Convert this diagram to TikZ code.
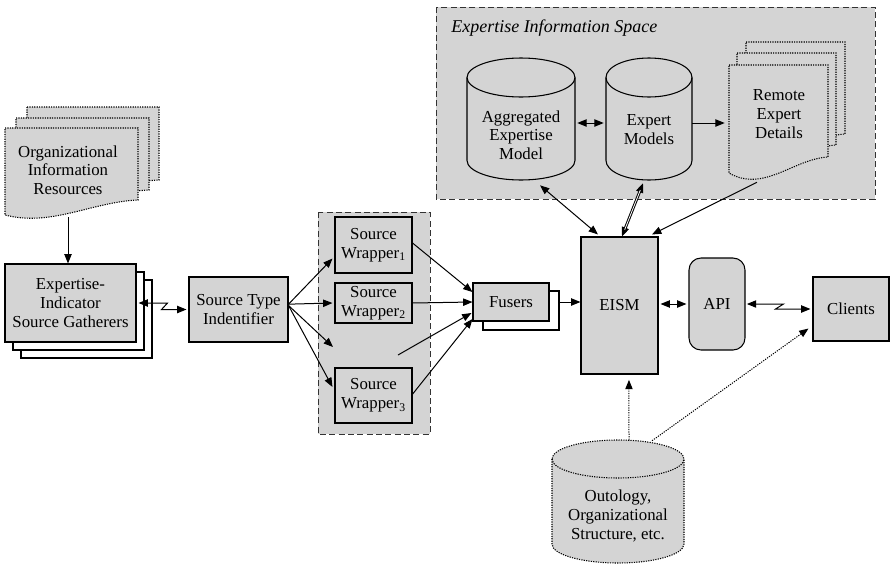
\documentclass[tikz,border=0pt]{standalone}
\usepackage{fontspec}
\setmainfont{LiberationSerif}[Extension=.ttf, UprightFont=*-Regular, ItalicFont=*-Italic, BoldFont=*-Bold, BoldItalicFont=*-BoldItalic]
\usetikzlibrary{arrows.meta,calc}
\definecolor{fillg}{RGB}{212,212,212}
\tikzset{
 every node/.style={font=\rmfamily\fontsize{12.6pt}{14pt}\selectfont, align=center, inner sep=0pt},
 box/.style={draw, fill=fillg, line width=0.8pt},
 backbox/.style={draw, fill=white, line width=0.8pt},
 grp/.style={draw=black!80, fill=fillg, line width=0.6pt, dash pattern=on 4.5pt off 2.5pt},
 dotb/.style={draw, fill=fillg, line width=0.8pt, dash pattern=on 0.9pt off 0.9pt},
 arr/.style={-{Triangle[length=7pt,width=5.5pt]}, line width=0.75pt},
 darr/.style={{Triangle[length=7pt,width=5.5pt]}-{Triangle[length=7pt,width=5.5pt]}, line width=0.75pt},
 dotarr/.style={arr, dash pattern=on 0.9pt off 0.9pt},
 txt/.style={draw=none, fill=none},
}
% document shape: x0 x1 ytop yLeftBottom yRightBottom dip style
\newcommand\mydoc[7]{%
 \pgfmathsetmacro\mydw{#2-#1}%
 \path[#7] (#1,#3) -- (#2,#3) -- (#2,#5) .. controls ({#2-0.35*\mydw},{#5+2}) and ({#1+0.35*\mydw},{#4+#6}) .. (#1,#4) -- cycle;}
% cylinder: cx rx ytop ybot ry style
\newcommand\mycyl[6]{%
 \pgfmathsetmacro\mcxa{#1-#2}\pgfmathsetmacro\mcxb{#1+#2}%
 \pgfmathsetmacro\mcyt{#3+#5}\pgfmathsetmacro\mcyb{#4-#5}%
 \pgfmathsetmacro\mkx{0.5523*#2}\pgfmathsetmacro\mky{0.5523*#5}%
 \pgfmathsetmacro\mtb{#3+2*#5}%
 \path[#6] (\mcxa,\mcyt) -- (\mcxa,\mcyb) .. controls (\mcxa,{\mcyb+\mky}) and ({#1-\mkx},#4) .. (#1,#4) .. controls ({#1+\mkx},#4) and (\mcxb,{\mcyb+\mky}) .. (\mcxb,\mcyb) -- (\mcxb,\mcyt) .. controls (\mcxb,{\mcyt-\mky}) and ({#1+\mkx},#3) .. (#1,#3) .. controls ({#1-\mkx},#3) and (\mcxa,{\mcyt-\mky}) .. (\mcxa,\mcyt) -- cycle;
 \path[#6, fill=none] (\mcxa,\mcyt) .. controls (\mcxa,{\mcyt+\mky}) and ({#1-\mkx},\mtb) .. (#1,\mtb) .. controls ({#1+\mkx},\mtb) and (\mcxb,{\mcyt+\mky}) .. (\mcxb,\mcyt);}
\begin{document}
\begin{tikzpicture}[x=0.75pt,y=-0.75pt]
\useasboundingbox (0,0) rectangle (894,565);

% group areas
\draw[grp] (436,7) rectangle (875,199);
\node[anchor=west, font=\rmfamily\itshape\fontsize{13.5pt}{16pt}\selectfont] (eistitle) at (451,28) {Expertise Information Space};
\draw[grp] (318,212) rectangle (430,434);

% organizational information resources (document stack)
\mydoc{27}{159}{107}{194}{180}{12}{dotb}
\mydoc{16}{149}{118}{205}{190}{12}{dotb}
\mydoc{5}{138}{128}{215}{200}{12}{dotb}
\node[txt, minimum width=99.75pt, minimum height=66pt] (orgdoc) at (68,170) {Organizational\\Information\\Resources};

% remote expert details (document stack)
\mydoc{746}{845}{42}{150}{134}{20}{dotb}
\mydoc{737}{836}{53}{161}{145}{20}{dotb}
\mydoc{729}{828}{65}{173}{157}{20}{dotb}
\node[txt, minimum width=74.25pt, minimum height=86.25pt] (remote) at (778.5,122.5) {};
\node[txt] (remotetxt) at (779,114) {Remote\\Expert\\Details};

% cylinders
\mycyl{521}{54}{58}{180}{19.5}{box}
\node[txt, minimum width=81pt, minimum height=91.5pt] (aem) at (521,119) {};
\node[txt] (aemtxt) at (521,135) {Aggregated\\Expertise\\Model};
\mycyl{649}{43}{58}{180}{19.5}{box}
\node[txt, minimum width=64.5pt, minimum height=91.5pt] (em) at (649,119) {};
\node[txt] (emtxt) at (649,129.5) {Expert\\Models};
\mycyl{618}{66}{440}{563}{19}{dotb}
\node[txt, minimum width=99pt, minimum height=92.25pt] (onto) at (618,501.5) {};
\node[txt] (ontotxt) at (618,516) {Outology,\\Organizational\\Structure, etc.};

% gatherers
\node[backbox, minimum width=98.25pt, minimum height=58.5pt] (gathb2) at (86.5,319) {};
\node[backbox, minimum width=98.25pt, minimum height=58.5pt] (gathb1) at (78.5,311) {};
\node[box, minimum width=98.25pt, minimum height=58.5pt] (gath) at (70.5,303) {Expertise-\\Indicator\\Source Gatherers};

\node[box, minimum width=74.25pt, minimum height=48.75pt] (sti) at (238.5,309.5) {Source Type\\Indentifier};

\node[box, minimum width=57.75pt, minimum height=42pt] (w1) at (373.5,245) {Source\\Wrapper\textsubscript{1}};
\node[box, minimum width=57.75pt, minimum height=30pt] (w2) at (373.5,303) {Source\\Wrapper\textsubscript{2}};
\node[box, minimum width=57.75pt, minimum height=41.25pt] (w3) at (373.5,395.5) {Source\\Wrapper\textsubscript{3}};
\coordinate (gapin) at (333,347);
\coordinate (gapout) at (398,355);

\node[backbox, minimum width=57pt, minimum height=29.25pt] (fusersback) at (521,310.5) {};
\node[box, minimum width=57pt, minimum height=28.5pt] (fusers) at (511,302) {Fusers};

\node[box, minimum width=57.75pt, minimum height=102.75pt] (eism) at (619.5,305.5) {EISM};
\node[box, rounded corners=9pt, minimum width=42pt, minimum height=69pt] (api) at (717,304) {API};
\node[box, minimum width=57pt, minimum height=48pt] (clients) at (851,309) {Clients};

% connectors
\draw[arr] ([yshift=-2.25pt]orgdoc.south) -- (orgdoc.south |- gath.north);
\draw[darr, shorten <=1.5pt, shorten >=1.5pt] (gath.east) -- ++(31,0) -- ++(-6,6.5) -- (sti.west);

\draw[arr] ([yshift=4pt]sti.east) -- ([shift={(-2,-15)}]w1.south west);
\draw[arr] ([yshift=4pt]sti.east) -- ([xshift=-1.5pt]w2.west);
\draw[arr] ([yshift=3pt]sti.east) -- (gapin);
\draw[arr] ([yshift=3pt]sti.east) -- ([shift={(-2,-8.5)}]w3.west);

\draw[arr] ([yshift=1.5pt]w1.east) -- ([shift={(0,-10)}]fusers.west);
\draw[arr] (w2.east) -- (fusers.west);
\draw[arr] (gapout) -- ([shift={(-1,11)}]fusers.west);
\draw[arr] ([yshift=1pt]w3.east) -- ([shift={(0,17)}]fusers.west);

\draw[arr] (fusersback.east |- fusers.east) -- (eism.west |- fusers.east);
\draw[darr, shorten <=1.5pt, shorten >=1.5pt] (eism.east |- api.west) -- (api.west);
\draw[darr, shorten <=1pt, shorten >=1.5pt] (api.east) -- ++(38,0) -- ++(-8,5) -- (clients.west);

\draw[darr] ([shift={(2,4)}]aem.east) -- ([shift={(-2,4)}]em.west);
\draw[arr] ([shift={(0,4)}]em.east) -- ([shift={(-4,0.5)}]remote.west);

\draw[darr] ([shift={(19,5)}]aem.south) -- ([shift={(-21.5,-2)}]eism.north);
\draw[darr] ([shift={(-6,3)}]em.south) -- ([shift={(2.5,0)}]eism.north);
\draw[line width=2.1pt, shorten <=5.5pt, shorten >=5.5pt] ([shift={(-6,3)}]em.south) -- ([shift={(2.5,0)}]eism.north);
\draw[white, line width=0.6pt, shorten <=5.5pt, shorten >=5.5pt] ([shift={(-6,3)}]em.south) -- ([shift={(2.5,0)}]eism.north);
\draw[arr] ([shift={(-21.5,2)}]remote.south) -- ([shift={(32.5,-2)}]eism.north);

\draw[dotarr] ([xshift=8.25pt]onto.north) -- ([xshift=7.1pt, yshift=-4pt]eism.south);
\draw[dotarr] ([shift={(34,1)}]onto.north) -- ([shift={(-4,-13)}]clients.south west);
\end{tikzpicture}
\end{document}
